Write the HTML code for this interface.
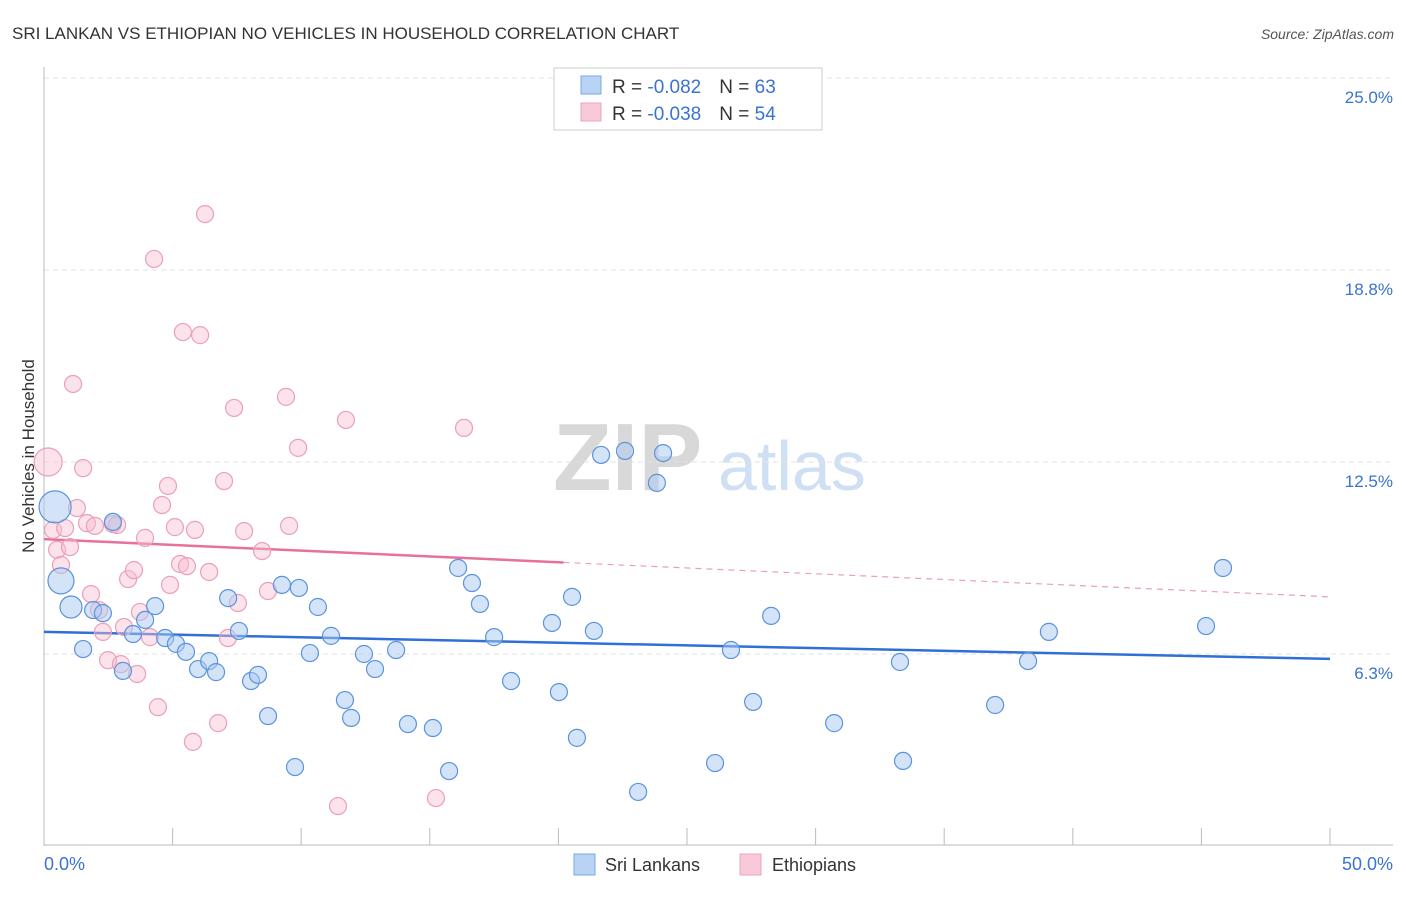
<!DOCTYPE html>
<html><head><meta charset="utf-8"><style>
body{margin:0;background:#fff;font-family:"Liberation Sans",sans-serif}
svg text{font-family:"Liberation Sans",sans-serif}
</style></head><body>
<svg width="1406" height="892" id="chart">
<text x="12" y="39" font-size="17" fill="#333">SRI LANKAN VS ETHIOPIAN NO VEHICLES IN HOUSEHOLD CORRELATION CHART</text>
<text x="1394" y="39" font-size="14" fill="#555" font-style="italic" text-anchor="end">Source: ZipAtlas.com</text>
<g>
<text x="553" y="490" font-size="96" fill="#d8d8d8" font-family="Liberation Serif" font-weight="bold">ZIP</text>
<text x="718" y="490" font-size="70" fill="#cfe0f5">atlas</text>
</g>
<g id="grid"></g>
<g id="axes"></g>
<g id="lines"></g>
<g id="pts"></g>
<text x="34" y="456" font-size="17" fill="#333" transform="rotate(-90 34 456)" text-anchor="middle">No Vehicles in Household</text>
<g>
<rect x="554" y="68" width="268" height="62" fill="#fff" stroke="#ccc"/>
<rect x="581" y="76" width="20" height="18" fill="#b9d3f5" stroke="#7aa8e4"/>
<rect x="581" y="103" width="20" height="18" fill="#f9c9d7" stroke="#eba5bb"/>
<text x="612" y="93" font-size="19" fill="#333">R = <tspan fill="#3a73d0">-0.082</tspan><tspan dx="18">N = </tspan><tspan fill="#3a73d0">63</tspan></text>
<text x="612" y="120" font-size="19" fill="#333">R = <tspan fill="#3a73d0">-0.038</tspan><tspan dx="18">N = </tspan><tspan fill="#3a73d0">54</tspan></text>
</g>
<g>
<rect x="574" y="854" width="21" height="21" fill="#b9d3f5" stroke="#7aa8e4"/>
<text x="605" y="871" font-size="18" fill="#333">Sri Lankans</text>
<rect x="740" y="854" width="21" height="21" fill="#f9c9d7" stroke="#eba5bb"/>
<text x="772" y="871" font-size="18" fill="#333">Ethiopians</text>
</g>
</svg>
<script>
const yTicks=[6.25,12.5,18.75,25];
const yTickLabels=["6.3%","12.5%","18.8%","25.0%"];
const xLabels=["0.0%","50.0%"];
const blueX=[0.43,0.66,1.05,1.52,1.91,2.29,2.68,3.07,3.46,3.93,4.32,4.71,5.13,5.52,5.99,6.42,6.69,7.16,7.58,8.05,8.32,8.71,9.25,9.76,9.91,10.34,10.65,11.16,11.70,11.94,12.44,12.87,13.69,14.15,15.12,15.75,16.10,16.64,16.95,17.50,18.16,19.75,20.02,20.53,20.72,21.38,21.66,22.59,23.10,23.83,24.07,26.09,26.71,27.57,28.27,30.72,33.28,33.40,36.98,38.26,39.07,45.18,45.84];
const blueY=[11.04,8.63,7.78,6.41,7.68,7.58,10.55,5.70,6.90,7.36,7.81,6.77,6.58,6.32,5.76,6.02,5.66,8.07,7.00,5.37,5.57,4.23,8.50,2.57,8.40,6.28,7.78,6.84,4.75,4.17,6.25,5.76,6.38,3.97,3.84,2.44,9.05,8.56,7.88,6.80,5.37,7.26,5.01,8.11,3.52,7.00,12.73,12.86,1.76,11.82,12.79,2.70,6.38,4.69,7.49,4.00,5.99,2.77,4.59,6.02,6.97,7.16,9.05];
const blueR=[16,13,11];
const pinkX=[0.16,0.35,0.51,0.66,0.82,1.01,1.13,1.28,1.52,1.67,1.83,1.98,2.14,2.29,2.49,2.68,2.84,2.99,3.11,3.27,3.50,3.62,3.73,3.93,4.12,4.28,4.43,4.59,4.82,4.90,5.09,5.29,5.40,5.56,5.79,5.87,6.07,6.26,6.42,6.77,7.00,7.15,7.39,7.54,7.78,8.48,8.71,9.41,9.53,9.88,11.43,11.74,15.24,16.33];
const pinkY=[12.50,10.29,9.64,9.15,10.35,9.73,15.04,11.00,12.30,10.51,8.20,10.42,7.68,6.97,6.05,10.48,10.45,5.92,7.13,8.69,8.98,5.60,7.62,10.03,6.80,19.11,4.52,11.10,11.72,8.50,10.38,9.18,16.73,9.11,3.39,10.29,16.63,20.57,8.92,4.00,11.88,6.77,14.26,7.91,10.25,9.60,8.30,14.62,10.42,12.96,1.30,13.87,1.56,13.61];
const pinkR=[14];
const blueTrend=[6.97,6.09];
const pinkTrend=[9.99,8.11];
const pinkSolidEnd=20.2;

const X=v=>44+v*25.72, Y=v=>846-v*30.72;
const NS="http://www.w3.org/2000/svg";
function mk(t,p,a){const e=document.createElementNS(NS,t);for(const k in a)e.setAttribute(k,a[k]);p.appendChild(e);return e;}
const grid=document.getElementById('grid'),axes=document.getElementById('axes'),lines=document.getElementById('lines'),pts=document.getElementById('pts');
yTicks.forEach((t,i)=>{
 const l=mk('line',grid,{x1:44,x2:1393,y1:Y(t),y2:Y(t),stroke:'#e2e2e2','stroke-dasharray':'5,4'});
 
 
 const tx=mk('text',grid,{x:1393,y:Y(t)+25,'font-size':17,fill:'#3a73d0','text-anchor':'end'});
 tx.textContent=yTickLabels[i];
 
 
});
const ax=mk('line',axes,{x1:44,x2:44,y1:67,y2:846,stroke:'#bbb'});


const bx=mk('line',axes,{x1:44,x2:1393,y1:845,y2:845,stroke:'#bbb'});


for(let i=1;i<=10;i++){const tk=mk('line',axes,{x1:X(i*5),x2:X(i*5),y1:828,y2:845,stroke:'#bbb'});
 
 }
[[0,'start'],[50,'end']].forEach((d,i)=>{const t=mk('text',axes,{x:i?1393:44,y:870,'font-size':18,fill:'#3a73d0','text-anchor':d[1]});t.textContent=xLabels[i];
 
 });
function dot(x,y,r,f,s,name){const c=mk('circle',pts,{cx:X(x),cy:Y(y),r:r,fill:f,stroke:s,'stroke-width':1.2});
 
 }
pinkX.forEach((x,i)=>dot(x,pinkY[i],pinkR[i]||8.5,'rgba(248,190,208,0.45)','#eba0b8','ethiopian-point'));
blueX.forEach((x,i)=>dot(x,blueY[i],blueR[i]||8.5,'rgba(170,202,242,0.5)','#5b93dc','sri-lankan-point'));
const pt=v=>pinkTrend[0]+(pinkTrend[1]-pinkTrend[0])*v/50;
const b=mk('line',lines,{x1:X(0),y1:Y(blueTrend[0]),x2:X(50),y2:Y(blueTrend[1]),stroke:'#2f6fd6','stroke-width':2.5});


const p1=mk('line',lines,{x1:X(0),y1:Y(pt(0)),x2:X(pinkSolidEnd),y2:Y(pt(pinkSolidEnd)),stroke:'#e8709a','stroke-width':2.5});


const p2=mk('line',lines,{x1:X(pinkSolidEnd),y1:Y(pt(pinkSolidEnd)),x2:X(50),y2:Y(pt(50)),stroke:'#e8a0b8','stroke-width':1.2,'stroke-dasharray':'6,5'});


</script>
</body></html>
